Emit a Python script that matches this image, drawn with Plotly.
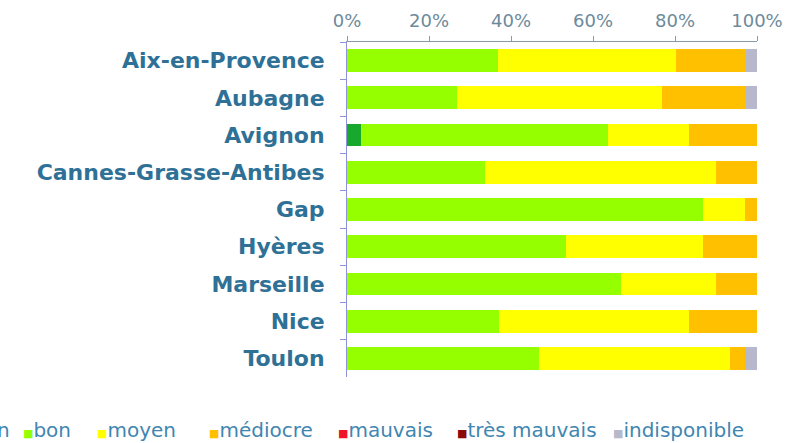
import plotly.graph_objects as go

cities = ["Aix-en-Provence", "Aubagne", "Avignon", "Cannes-Grasse-Antibes", "Gap",
          "Hyères", "Marseille", "Nice", "Toulon"]

# share of days per air-quality class (%)
tres_bon = [0, 0, 3.5, 0, 0, 0, 0, 0, 0]
bon = [36.8, 26.8, 60.2, 33.6, 86.8, 53.5, 66.9, 37.1, 46.8]
moyen = [43.5, 50.1, 19.7, 56.5, 10.2, 33.3, 23.2, 46.3, 46.7]
mediocre = [17.1, 20.3, 16.6, 9.9, 3.0, 13.2, 9.9, 16.6, 3.5]
mauvais = [0, 0, 0, 0, 0, 0, 0, 0, 0]
tres_mauvais = [0, 0, 0, 0, 0, 0, 0, 0, 0]
indisponible = [2.6, 2.8, 0, 0, 0, 0, 0, 0, 3.0]

series_names = ["très bon", "bon", "moyen", "médiocre", "mauvais", "très mauvais", "indisponible"]
series_values = [tres_bon, bon, moyen, mediocre, mauvais, tres_mauvais, indisponible]
colors = ["#18a82e", "#95ff00", "#ffff00", "#ffc000", "#f0142a", "#8b0a0a", "#b8b8cc"]

x_ticks = [0, 20, 40, 60, 80, 100]
x_tick_labels = [f"{v}%" for v in x_ticks]

W, H = 803, 443
L, R, T, B = 347, 46, 42, 66
plot_w = W - L - R
plot_h = H - T - B

fig = go.Figure()
for name, vals, col in zip(series_names, series_values, colors):
    fig.add_trace(go.Bar(
        y=cities, x=vals,
        orientation='h',
        name=name,
        marker=dict(color=col, line=dict(width=0)),
        showlegend=False,
    ))

# legend drawn as text, squares hugging the labels like the original
legend_px = [-84, 22, 96, 208, 337, 456, 612]
for name, col, px in zip(series_names, colors, legend_px):
    fig.add_annotation(
        text=f"<span style='font-size:11px;color:{col}'>■</span>{name}",
        xref='paper', yref='paper',
        x=(px - L) / plot_w, y=(H - B - 430) / plot_h,
        xanchor='left', yanchor='middle',
        showarrow=False, borderpad=0,
        font=dict(family="DejaVu Sans", size=20, color="#3f86b0"),
    )

fig.update_layout(
    barmode='stack',
    bargap=0.39,
    width=W, height=H,
    margin=dict(l=L, r=R, t=T, b=B, autoexpand=False),
    plot_bgcolor='white',
    paper_bgcolor='white',
    xaxis=dict(
        side='top',
        range=[0, 100],
        tickvals=x_ticks,
        ticktext=x_tick_labels,
        ticks='outside', ticklen=5, tickcolor='#8c99a6',
        showline=True, linecolor='#8c99a6', linewidth=1,
        showgrid=False, zeroline=False,
        automargin=False,
        ticklabelstandoff=2,
        tickfont=dict(family="DejaVu Sans", size=18, color="#6d8a9b"),
    ),
    yaxis=dict(
        autorange='reversed',
        ticks='outside', ticklen=6, tickson='boundaries', tickcolor='#8f93d9',
        showline=True, linecolor='#8f93d9', linewidth=1,
        showgrid=False,
        automargin=False,
        ticklabelstandoff=17,
        tickfont=dict(family="DejaVu Sans", size=22, color="#2f7196", weight='bold'),
    ),
)

fig.write_html("out.html", config={"displayModeBar": False},
               post_script="document.body.style.margin='0';")
